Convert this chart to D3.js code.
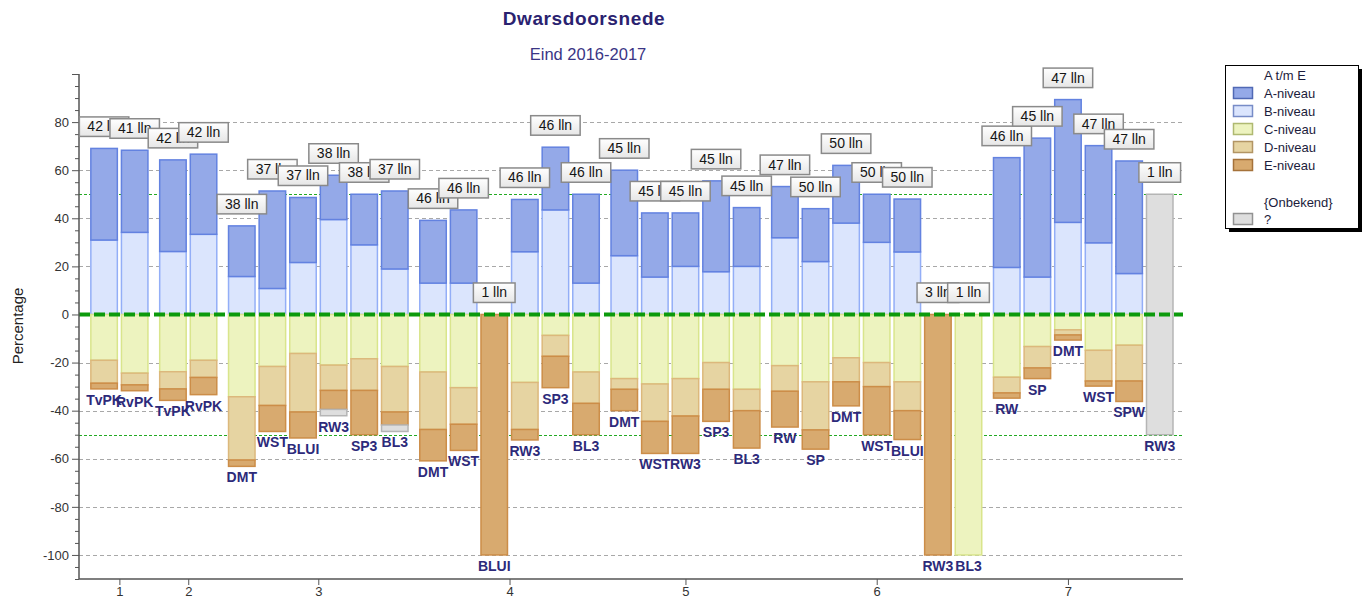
<!DOCTYPE html>
<html>
<head>
<meta charset="utf-8">
<script src="https://cdn.jsdelivr.net/npm/d3@7"></script>
<style>
  body { margin: 0; background: #fff; }
  svg { display: block; font-family: "Liberation Sans", Arial, sans-serif; }
</style>
</head>
<body>
<svg id="chart"></svg>
<script>
// group (x tick) of every bar
let groups = [1,1, 2,2, 3,3,3,3,3,3, 4,4,4,4,4,4, 5,5,5,5,5, 6,6,6,6,6,6,6, 7,7,7,7,7,7];
let groupLabels = ["1","2","3","4","5","6","7"];
let names = ["TvPK","RvPK", "TvPK","RvPK",
  "DMT","WST","BLUI","RW3","SP3","BL3",
  "DMT","WST","BLUI","RW3","SP3","BL3",
  "DMT","WST","RW3","SP3","BL3",
  "RW","SP","DMT","WST","BLUI","RW3","BL3",
  "RW","SP","DMT","WST","SPW","RW3"];

// number of pupils per level
let levelA = [16,14, 16,14, 8,15,10,7,8,12, 12,14,0,10,12,17, 16,12,10,17,11, 10,11,12,10,11,0,0, 21,26,24,19,22,0];
let levelB = [13,14, 11,14, 6,4,8,15,11,7, 6,6,0,12,20,6, 11,7,9,8,9, 15,11,19,15,13,0,0, 9,7,18,14,8,0];
let levelC = [8,10, 10,8, 13,8,6,8,7,8, 11,14,0,13,4,11, 12,13,12,9,14, 10,14,9,10,14,0,1, 12,6,3,7,6,0];
let levelD = [4,2, 3,3, 10,6,9,4,5,7, 11,7,0,9,4,6, 2,7,7,5,4, 5,10,5,5,6,0,0, 3,4,1,6,7,0];
let levelE = [1,1, 2,3, 1,4,4,3,7,2, 6,5,1,2,6,6, 4,6,7,6,7, 7,4,5,10,6,3,0, 1,2,1,1,4,0];
let levelQ = [0,0, 0,0, 0,0,0,1,0,1, 0,0,0,0,0,0, 0,0,0,0,0, 0,0,0,0,0,0,0, 0,0,0,0,0,1];

let legendKeys = ["A","B","C","D","E","Q"];
let legendLabels = ["A-niveau","B-niveau","C-niveau","D-niveau","E-niveau","?"];

let yTicks = d3.range(-110, 101, 5);

let fills = {A:"#94a9e8", B:"#dbe5fd", C:"#edf3bf", D:"#e6d4a2", E:"#d8aa6f", Q:"#dedede"};
let strokes = {A:"#6382e0", B:"#93aef7", C:"#d9e58c", D:"#dcb87c", E:"#cc8d48", Q:"#b5b5b5"};

let width = 1367, height = 605;
let left = 79, right = 1183;
let groupGap = 0.25;

let svg = d3.select("#chart").attr("width", width).attr("height", height);

let slot = (i) => i + (groups[i] - 1) * groupGap;

let xScale = d3.scaleLinear().domain([-0.82, 35.26]).range([left, right]);
let yScale = d3.scaleLinear().domain([-110, 100]).range([579, 74]);
let barW = xScale(0.915) - xScale(0);

// build stacked segments
let bars = names.map((name, i) => {
  let total = levelA[i] + levelB[i] + levelC[i] + levelD[i] + levelE[i] + levelQ[i];
  let pct = (v) => v / total * 100;
  let segs = [];
  let up = 0, down = 0;
  [["B", levelB[i]], ["A", levelA[i]]].forEach(([k, v]) => {
    if (v > 0) { segs.push({k: k, y0: up, y1: up + pct(v)}); up += pct(v); }
  });
  [["C", levelC[i]], ["D", levelD[i]], ["E", levelE[i]], ["Q", levelQ[i]]].forEach(([k, v]) => {
    if (v > 0) { segs.push({k: k, y0: -down, y1: -down - pct(v)}); down += pct(v); }
  });
  if (total === levelQ[i]) { // only unknown: centred around zero
    segs = [{k: "Q", y0: 50, y1: -50}];
    up = 50; down = 50;
  }
  return {i: i, name: name, total: total, segs: segs, top: up, bottom: -down};
});

// grid
let grid = svg.append("g");
grid.selectAll("line")
  .data(d3.range(-100, 81, 20).filter(d => d !== 0))
  .enter().append("line")
  .attr("x1", left).attr("x2", right)
  .attr("y1", d => Math.round(yScale(d)) + 0.5).attr("y2", d => Math.round(yScale(d)) + 0.5)
  .attr("stroke", "#a8a8a8").attr("stroke-dasharray", "4,3");

grid.selectAll(".lim")
  .data([50, -50])
  .enter().append("line")
  .attr("x1", left).attr("x2", right)
  .attr("y1", d => Math.round(yScale(d)) + 0.5).attr("y2", d => Math.round(yScale(d)) + 0.5)
  .attr("stroke", "#22aa22").attr("stroke-dasharray", "3,2");

// bars
let barG = svg.append("g").selectAll("g")
  .data(bars)
  .enter().append("g");

barG.selectAll("rect")
  .data(d => d.segs.map(s => Object.assign({i: d.i}, s)))
  .enter().append("rect")
  .attr("x", s => xScale(slot(s.i)) - barW / 2 + 0.75)
  .attr("width", barW - 1.5)
  .attr("y", s => yScale(Math.max(s.y0, s.y1)))
  .attr("height", s => Math.abs(yScale(s.y0) - yScale(s.y1)))
  .attr("fill", s => fills[s.k])
  .attr("stroke", s => strokes[s.k])
  .attr("stroke-width", 1.5);

// zero line
svg.append("line")
  .attr("x1", left).attr("x2", right)
  .attr("y1", yScale(0)).attr("y2", yScale(0))
  .attr("stroke", "#0c9a0c").attr("stroke-width", 4)
  .attr("stroke-dasharray", "11,4");

// axes
let yAxis = d3.axisLeft(yScale)
  .tickValues(yTicks)
  .tickSize(4)
  .tickFormat(d => (d % 20 === 0 && d < 100) ? d : "");
let yG = svg.append("g")
  .attr("transform", "translate(" + left + ",0)")
  .call(yAxis);
yG.selectAll(".tick line").filter(d => d % 20 === 0).attr("x2", -7);
yG.selectAll(".tick text").attr("x", -10).attr("font-size", 13).attr("fill", "#333")
  .attr("font-family", "Liberation Sans, Arial, sans-serif");
yG.selectAll("line, path").attr("stroke", "#555");
yG.select(".domain").attr("stroke-width", 1.5).attr("d", "M0," + yScale(100) + "V" + yScale(-110));

let tickPos = groupLabels.map((g, gi) => {
  let idx = bars.filter(b => groups[b.i] === gi + 1 && levelQ[b.i] !== b.total).map(b => slot(b.i));
  return (d3.min(idx) + d3.max(idx)) / 2;
});
let xAxis = d3.axisBottom(xScale)
  .tickValues(tickPos)
  .tickSize(6)
  .tickFormat((d, k) => groupLabels[k]);
let xG = svg.append("g")
  .attr("transform", "translate(0," + yScale(-110) + ")")
  .call(xAxis);
xG.selectAll(".tick text").attr("font-size", 13).attr("fill", "#333").attr("y", 8)
  .attr("font-family", "Liberation Sans, Arial, sans-serif");
xG.selectAll("line, path").attr("stroke", "#555");
xG.select(".domain").attr("stroke-width", 1.5).attr("d", "M" + left + ",0H" + right);

// axis title
svg.append("text")
  .attr("transform", "translate(23,326) rotate(-90)")
  .attr("text-anchor", "middle")
  .attr("font-size", 15).attr("fill", "#222")
  .text("Percentage");

// titles
svg.append("text")
  .attr("x", 584).attr("y", 25)
  .attr("text-anchor", "middle")
  .attr("font-size", 19).attr("font-weight", "bold")
  .attr("letter-spacing", 0.6)
  .attr("fill", "#2a2270")
  .text("Dwarsdoorsnede");
svg.append("text")
  .attr("x", 588).attr("y", 60)
  .attr("text-anchor", "middle")
  .attr("font-size", 16.5)
  .attr("fill", "#3a3585")
  .text("Eind 2016-2017");

// gradient for the count boxes
let grad = svg.append("defs").append("linearGradient")
  .attr("id", "boxGrad").attr("x1", 0).attr("x2", 0).attr("y1", 0).attr("y2", 1);
grad.append("stop").attr("offset", "0%").attr("stop-color", "#ffffff");
grad.append("stop").attr("offset", "100%").attr("stop-color", "#e6e6e6");

// count labels on top
bars.forEach(b => {
  let cx = xScale(slot(b.i));
  let bottomY = yScale(b.top) - 12;
  let g = svg.append("g");
  let rect = g.append("rect");
  let t = g.append("text")
    .attr("x", cx).attr("y", bottomY - 5)
    .attr("text-anchor", "middle")
    .attr("font-size", 14).attr("fill", "#151515")
    .text(b.total + " lln");
  let w = t.node().getComputedTextLength() + 16;
  rect.attr("x", cx - w / 2).attr("y", bottomY - 19.5)
    .attr("width", w).attr("height", 19.5)
    .attr("fill", "url(#boxGrad)")
    .attr("stroke", "#8a8a8a").attr("stroke-width", 1.5);
});

// names below
svg.append("g").selectAll("text")
  .data(bars)
  .enter().append("text")
  .attr("x", b => xScale(slot(b.i)))
  .attr("y", b => yScale(b.bottom) + 16)
  .attr("text-anchor", "middle")
  .attr("font-size", 14).attr("font-weight", "bold")
  .attr("fill", "#2d2a7a")
  .text(b => b.name);

// legend
let lg = svg.append("g");
lg.append("rect").attr("x", 1229).attr("y", 69).attr("width", 133).attr("height", 163).attr("fill", "#000");
lg.append("rect").attr("x", 1225.5).attr("y", 65.5).attr("width", 133).attr("height", 163)
  .attr("fill", "#fff").attr("stroke", "#000").attr("stroke-width", 1);
lg.append("text").attr("x", 1264).attr("y", 80).attr("font-size", 13).attr("fill", "#1c1c3c").text("A t/m E");
lg.append("text").attr("x", 1264).attr("y", 207).attr("font-size", 13).attr("fill", "#1c1c3c").text("{Onbekend}");

let legendY = (k) => k < 5 ? 93 + k * 18 : 219;
let items = lg.selectAll(".item")
  .data(legendKeys)
  .enter().append("g");
items.append("rect")
  .attr("x", 1233.5).attr("y", (d, k) => legendY(k) - 5.5)
  .attr("width", 19).attr("height", 11)
  .attr("fill", d => fills[d])
  .attr("stroke", d => d3.color(strokes[d]).darker(0.6))
  .attr("stroke-width", 1.5);
items.append("text")
  .attr("x", 1264).attr("y", (d, k) => legendY(k) + 5)
  .attr("font-size", 13).attr("fill", "#1c1c3c")
  .text((d, k) => legendLabels[k]);
</script>
</body>
</html>
